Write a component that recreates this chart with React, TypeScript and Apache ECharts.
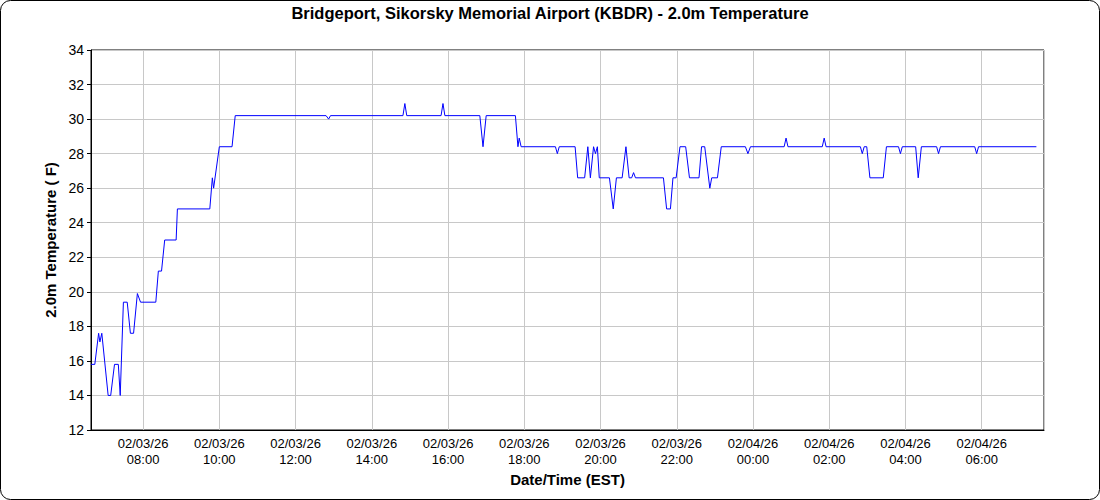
import React, { useEffect, useRef } from "react";
import * as echarts from "echarts";

const TITLE = "Bridgeport, Sikorsky Memorial Airport (KBDR) - 2.0m Temperature";
const Y_NAME = "2.0m Temperature ( F)";
const X_NAME = "Date/Time (EST)";

const AXIS_START = "02/03 06:38";
const AXIS_END = "02/04 07:38";

const Y_MIN = 12;
const Y_MAX = 34;
const Y_STEP = 2;

const times: string[] = [
  "02/03 06:38", "02/03 06:44", "02/03 06:50", "02/03 06:52", "02/03 06:55",
  "02/03 07:05", "02/03 07:09", "02/03 07:15", "02/03 07:21", "02/03 07:24",
  "02/03 07:29", "02/03 07:35", "02/03 07:40", "02/03 07:45", "02/03 07:51",
  "02/03 07:56", "02/03 08:20", "02/03 08:24", "02/03 08:29", "02/03 08:34",
  "02/03 08:52", "02/03 08:54", "02/03 09:45", "02/03 09:49", "02/03 09:51",
  "02/03 10:00", "02/03 10:20", "02/03 10:25", "02/03 12:48", "02/03 12:52",
  "02/03 12:55", "02/03 14:49", "02/03 14:52", "02/03 14:55", "02/03 15:49",
  "02/03 15:52", "02/03 15:55", "02/03 16:50", "02/03 16:55", "02/03 17:00",
  "02/03 17:46", "02/03 17:50", "02/03 17:52", "02/03 17:55", "02/03 18:49",
  "02/03 18:52", "02/03 18:55", "02/03 19:20", "02/03 19:24", "02/03 19:35",
  "02/03 19:40", "02/03 19:44", "02/03 19:49", "02/03 19:52", "02/03 19:55",
  "02/03 19:58", "02/03 20:14", "02/03 20:20", "02/03 20:25", "02/03 20:34",
  "02/03 20:40", "02/03 20:45", "02/03 20:49", "02/03 20:52", "02/03 20:55",
  "02/03 21:39", "02/03 21:44", "02/03 21:50", "02/03 21:54", "02/03 21:59",
  "02/03 22:05", "02/03 22:14", "02/03 22:20", "02/03 22:35", "02/03 22:39",
  "02/03 22:44", "02/03 22:52", "02/03 22:55", "02/03 23:04", "02/03 23:10",
  "02/03 23:48", "02/03 23:52", "02/03 23:56", "02/04 00:49", "02/04 00:52",
  "02/04 00:55", "02/04 01:49", "02/04 01:52", "02/04 01:55", "02/04 02:49",
  "02/04 02:52", "02/04 02:55", "02/04 02:59", "02/04 03:04", "02/04 03:25",
  "02/04 03:30", "02/04 03:49", "02/04 03:52", "02/04 03:55", "02/04 04:16",
  "02/04 04:20", "02/04 04:25", "02/04 04:49", "02/04 04:52", "02/04 04:55",
  "02/04 05:49", "02/04 05:52", "02/04 05:55", "02/04 07:26",
];

const temps: number[] = [
  15.8, 15.8, 17.6, 17.1, 17.6,
  14.0, 14.0, 15.8, 15.8, 14.0,
  19.4, 19.4, 17.6, 17.6, 19.9,
  19.4, 19.4, 21.2, 21.2, 23.0,
  23.0, 24.8, 24.8, 26.6, 26.0,
  28.4, 28.4, 30.2, 30.2, 30.0,
  30.2, 30.2, 30.9, 30.2, 30.2,
  30.9, 30.2, 30.2, 28.4, 30.2,
  30.2, 28.4, 28.9, 28.4, 28.4,
  28.0, 28.4, 28.4, 26.6, 26.6,
  28.4, 26.6, 28.4, 28.0, 28.4,
  26.6, 26.6, 24.8, 26.6, 26.6,
  28.4, 26.6, 26.6, 26.9, 26.6,
  26.6, 24.8, 24.8, 26.6, 26.6,
  28.4, 28.4, 26.6, 26.6, 28.4,
  28.4, 26.0, 26.6, 26.6, 28.4,
  28.4, 28.0, 28.4, 28.4, 28.9,
  28.4, 28.4, 28.9, 28.4, 28.4,
  28.0, 28.4, 28.4, 26.6, 26.6,
  28.4, 28.4, 28.0, 28.4, 28.4,
  26.6, 28.4, 28.4, 28.0, 28.4,
  28.4, 28.0, 28.4, 28.4,
];

// hours since 02/03 00:00
function toHours(s: string): number {
  const [md, hm] = s.split(" ");
  const day = parseInt(md.split("/")[1], 10);
  const [h, m] = hm.split(":").map((v) => parseInt(v, 10));
  return (day - 3) * 24 + h + m / 60;
}

function pad(n: number): string {
  return (n < 10 ? "0" : "") + n;
}

const FONT = "'Liberation Sans', Arial, Helvetica, sans-serif";

export default function App() {
  const ref = useRef<HTMLDivElement>(null);

  useEffect(() => {
    if (!ref.current) return;
    const chart = echarts.init(ref.current, undefined, { renderer: "svg" });
    const data = times.map((t, i) => [toHours(t), temps[i]]);

    chart.setOption({
      animation: false,
      backgroundColor: "#ffffff",
      textStyle: { fontFamily: FONT },
      title: {
        text: TITLE,
        left: "center",
        top: 4,
        padding: 0,
        textStyle: { fontFamily: FONT, fontSize: 16.5, fontWeight: "bold", color: "#000" },
      },
      graphic: [
        {
          type: "rect",
          shape: { x: 0.5, y: 0.5, width: 1099, height: 499, r: 10 },
          style: { fill: "none", stroke: "#000", lineWidth: 1 },
          silent: true,
          z: 100,
        },
      ],
      grid: {
        left: 91,
        right: 56,
        top: 50,
        bottom: 70,
        show: true,
        borderColor: "#000",
        borderWidth: 1,
        backgroundColor: "transparent",
      },
      xAxis: {
        type: "value",
        min: toHours(AXIS_START),
        max: toHours(AXIS_END),
        splitNumber: 12,
        minInterval: 2,
        maxInterval: 2,
        name: X_NAME,
        nameLocation: "middle",
        nameGap: 42,
        nameTextStyle: { fontFamily: FONT, fontSize: 15, fontWeight: "bold", color: "#000" },
        axisLine: { show: true, onZero: false, lineStyle: { color: "#000", width: 1 } },
        axisTick: { show: false },
        axisLabel: {
          show: true,
          showMinLabel: false,
          showMaxLabel: false,
          margin: 5,
          fontFamily: FONT,
          fontSize: 13,
          color: "#000",
          lineHeight: 16,
          formatter: (v: number) => {
            const h = Math.round(v);
            const day = 3 + Math.floor(h / 24);
            const hh = h % 24;
            return "02/" + pad(day) + "/26\n" + pad(hh) + ":00";
          },
        },
        splitLine: { show: true, lineStyle: { color: "#c8c8c8", width: 1 } },
      },
      yAxis: {
        type: "value",
        min: Y_MIN,
        max: Y_MAX,
        interval: Y_STEP,
        name: Y_NAME,
        nameLocation: "middle",
        nameGap: 26,
        nameRotate: 90,
        nameTextStyle: { fontFamily: FONT, fontSize: 15, fontWeight: "bold", color: "#000" },
        axisLine: { show: true, lineStyle: { color: "#000", width: 1 } },
        axisTick: { show: true, length: 4, lineStyle: { color: "#000" } },
        axisLabel: { fontFamily: FONT, fontSize: 14, color: "#000", margin: 7 },
        splitLine: { show: true, lineStyle: { color: "#c8c8c8", width: 1 } },
      },
      series: [
        {
          type: "line",
          data,
          showSymbol: false,
          symbol: "none",
          lineStyle: { color: "#0000ff", width: 1 },
          itemStyle: { color: "#0000ff" },
        },
      ],
    });

    return () => chart.dispose();
  }, []);

  return (
    <div
      ref={ref}
      style={{ position: "absolute", left: 0, top: 0, width: 1100, height: 500 }}
    />
  );
}
